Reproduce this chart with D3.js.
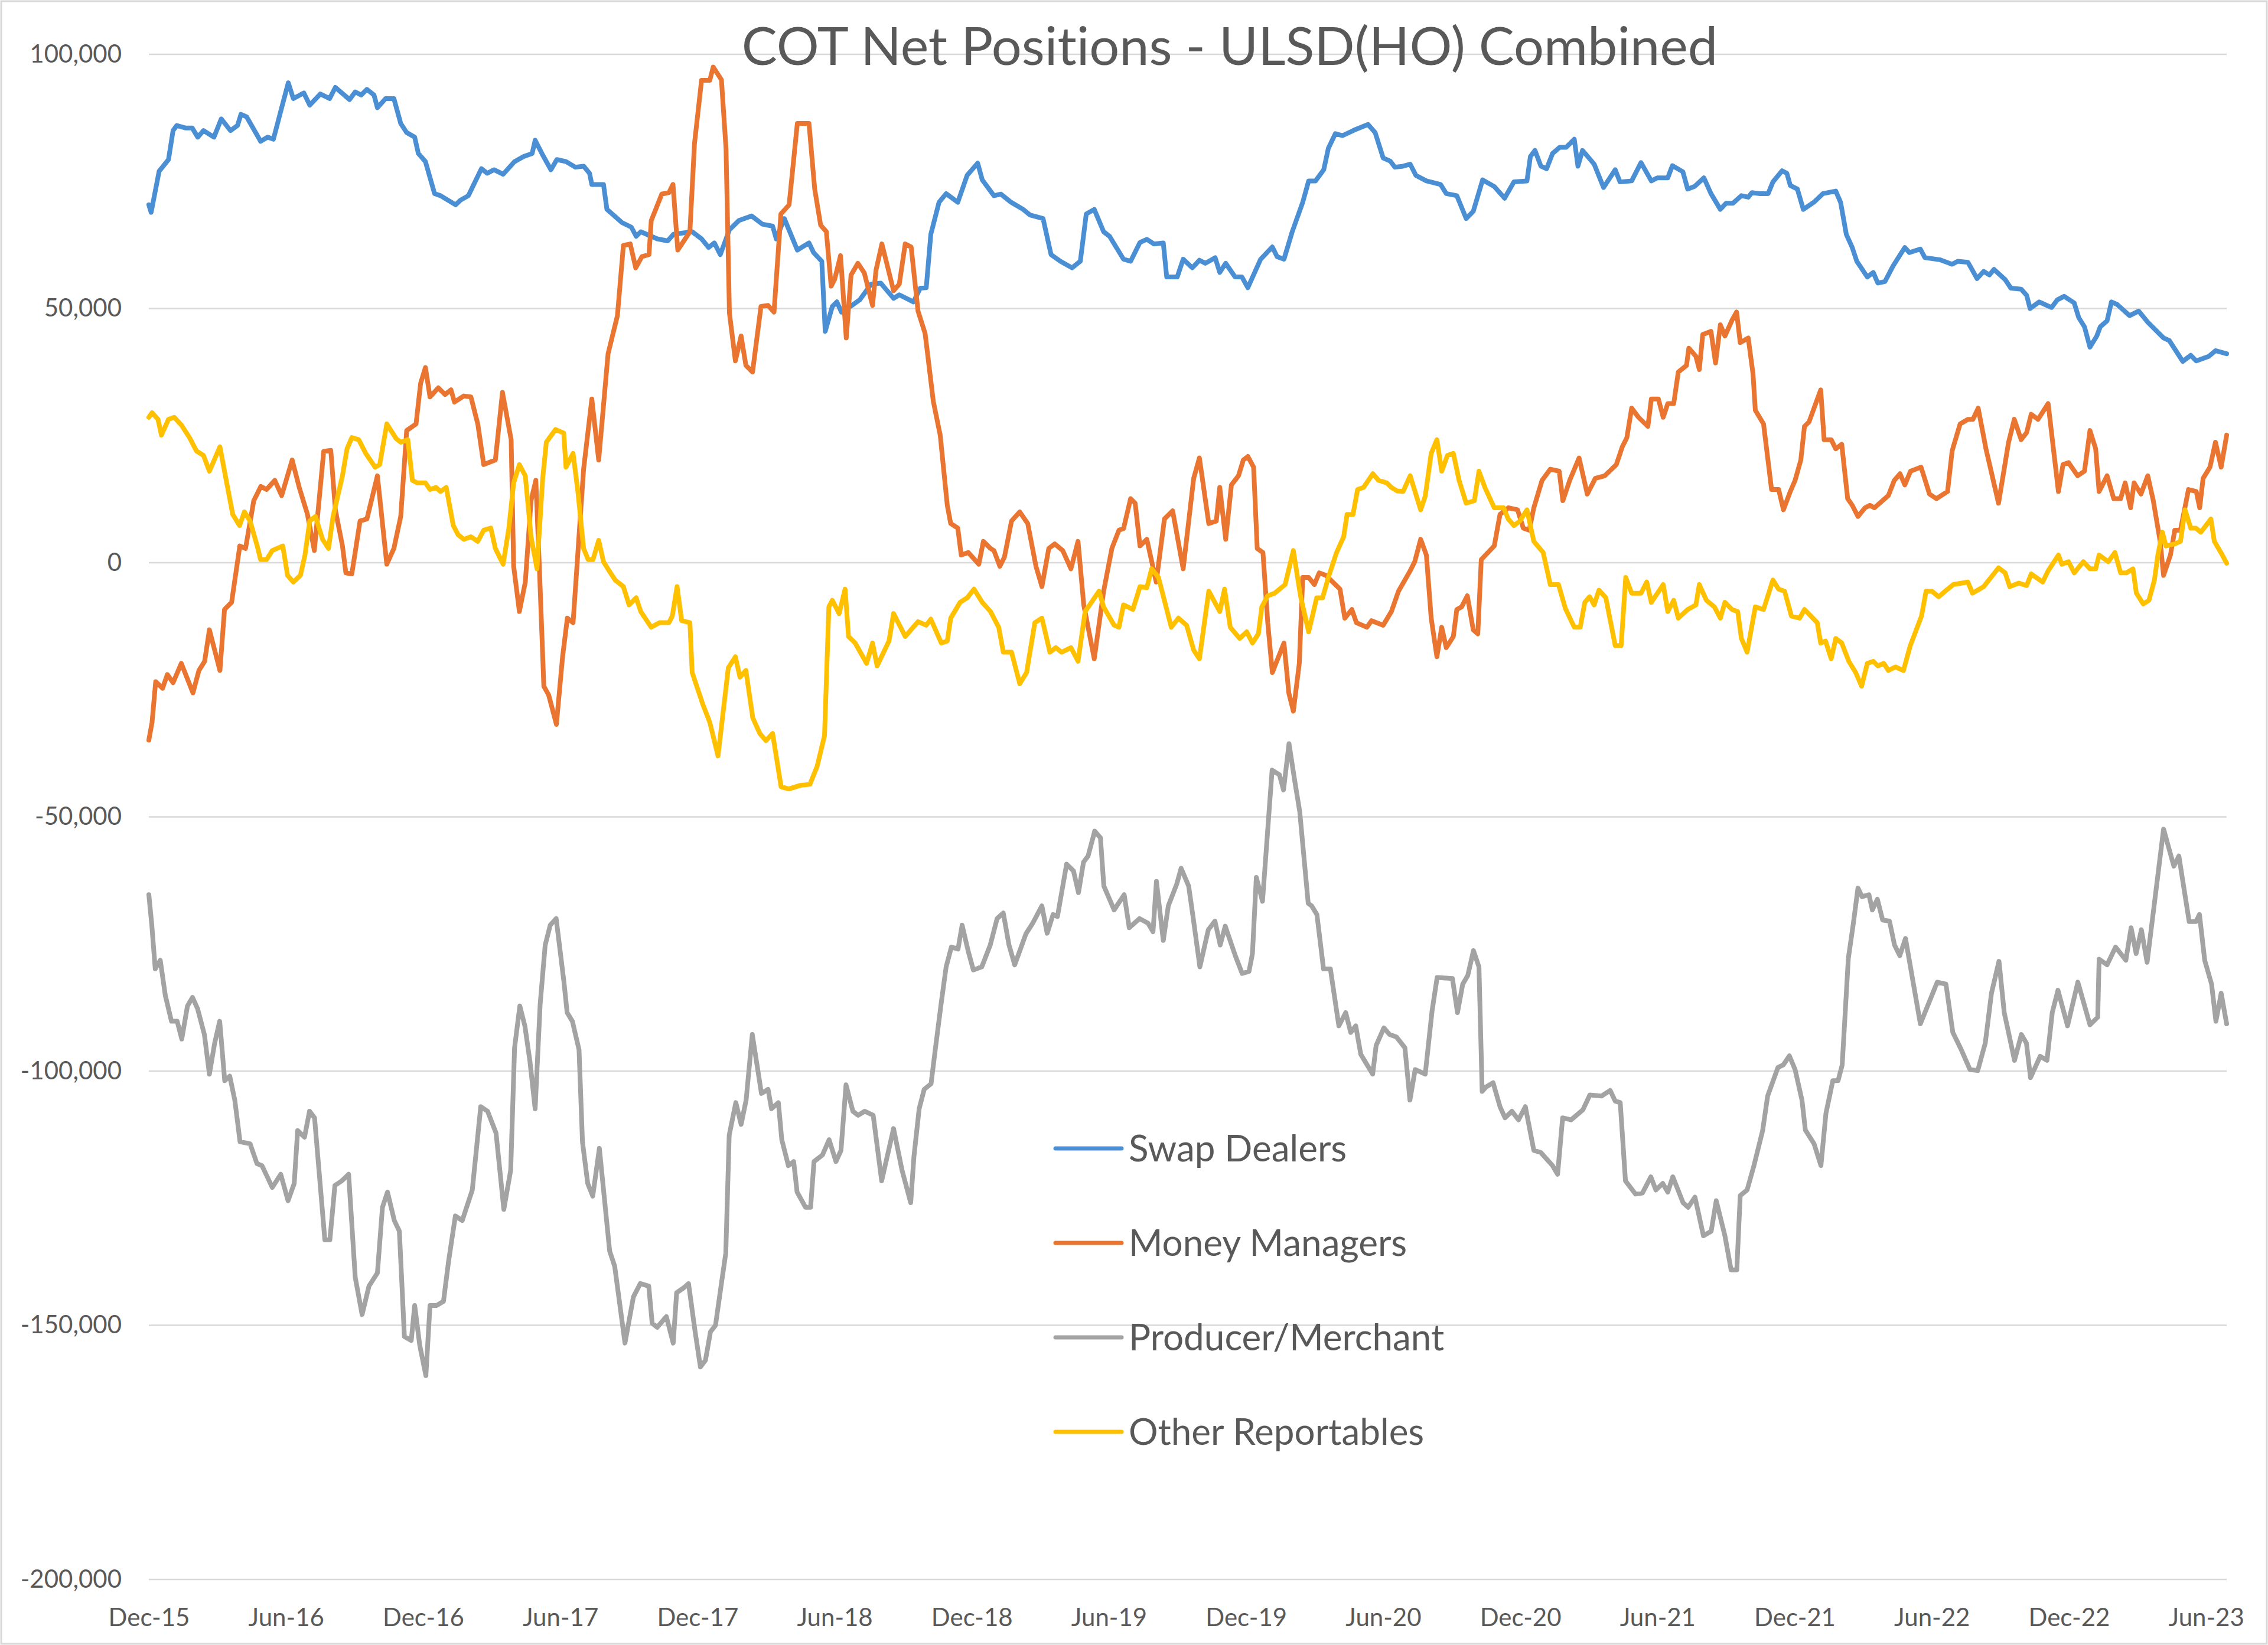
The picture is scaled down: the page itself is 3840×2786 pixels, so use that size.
<!DOCTYPE html>
<html><head><meta charset="utf-8">
<script src="https://cdn.jsdelivr.net/npm/d3@7"></script>
<style>body{margin:0;background:#fff}svg{display:block}text{font-variant-ligatures:none;font-feature-settings:"liga" 0}</style>
</head><body>
<svg id="chart" width="3840" height="2786"></svg>
<script>
// ---------- data ----------
const chartTitle = "COT Net Positions - ULSD(HO) Combined";
const seriesNames = ["Swap Dealers", "Money Managers", "Producer/Merchant", "Other Reportables"];
const seriesColors = ["#4a8fd4", "#ea7530", "#a3a3a3", "#ffc000"];
// x positions are months since Dec 2015
const xTickMonths = [0, 6, 12, 18, 24, 30, 36, 42, 48, 54, 60, 66, 72, 78, 84, 90];
const xTickLabels = ["Dec-15","Jun-16","Dec-16","Jun-17","Dec-17","Jun-18","Dec-18","Jun-19","Dec-19","Jun-20","Dec-20","Jun-21","Dec-21","Jun-22","Dec-22","Jun-23"];
const yTickValues = [-200000, -150000, -100000, -50000, 0, 50000, 100000];

const swapDealers = [[0,70400],[0.1,68900],[0.45,77000],[0.86,79300],[1.06,85000],[1.22,86000],[1.62,85500],[1.9,85500],[2.14,83700],[2.39,85000],[2.85,83700],[3.17,87300],[3.57,85000],[3.88,86000],[4.03,88200],[4.28,87700],[4.89,82900],[5.2,83700],[5.45,83300],[5.81,89500],[6.1,94400],[6.32,91300],[6.78,92400],[7.04,90000],[7.5,92200],[7.91,91300],[8.16,93500],[8.78,91100],[9.03,92600],[9.29,92000],[9.54,93100],[9.85,92000],[10.0,89500],[10.36,91300],[10.72,91300],[11.02,86400],[11.28,84600],[11.63,83700],[11.79,80500],[12.1,78900],[12.5,72600],[12.76,72200],[13.42,70400],[13.63,71300],[13.98,72200],[14.55,77500],[14.8,76600],[15.1,77300],[15.5,76400],[16.0,78900],[16.4,79900],[16.77,80500],[16.9,83100],[17.23,80200],[17.59,77300],[17.85,79300],[18.25,78900],[18.66,77800],[19.02,78000],[19.28,76600],[19.38,74400],[19.89,74400],[20.04,69500],[20.7,66900],[21.11,66000],[21.32,64200],[21.52,65100],[22.24,63700],[22.7,63300],[22.95,64600],[23.77,65100],[24.18,63700],[24.49,62000],[24.74,62900],[25.0,60600],[25.4,65500],[25.81,67300],[26.37,68200],[26.84,66600],[27.29,66200],[27.45,63700],[27.8,67700],[28.37,61500],[28.88,62900],[29.08,61000],[29.44,59300],[29.59,45500],[29.9,50400],[30.1,51300],[30.3,49300],[30.82,50800],[31.1,51700],[31.6,54800],[32.02,55000],[32.58,52000],[32.83,52700],[33.45,51300],[33.75,54000],[34.01,54100],[34.21,64600],[34.57,70900],[34.88,72600],[35.39,70900],[35.8,76200],[36.26,78600],[36.46,75300],[36.97,72200],[37.28,72500],[37.69,71000],[38.25,69500],[38.55,68400],[39.12,67700],[39.47,60600],[39.88,59300],[40.39,58000],[40.75,59300],[41.01,68600],[41.36,69500],[41.77,65100],[42.03,64200],[42.64,59700],[42.95,59300],[43.36,63000],[43.66,63600],[43.97,62700],[44.38,62900],[44.53,56200],[44.99,56200],[45.25,59700],[45.65,58000],[45.96,59500],[46.22,58900],[46.65,60000],[46.85,57100],[47.11,58900],[47.52,56200],[47.82,56200],[48.08,54100],[48.64,59700],[49.15,62100],[49.36,60200],[49.66,59700],[50.02,65100],[50.48,70900],[50.74,75100],[51.04,75100],[51.4,77300],[51.6,81500],[51.91,84400],[52.22,84000],[52.73,85100],[53.34,86200],[53.65,84600],[54.0,79600],[54.31,79000],[54.51,77800],[54.87,78000],[55.18,78400],[55.43,76200],[55.89,75100],[56.51,74400],[56.76,72600],[57.22,72200],[57.63,67700],[57.94,69100],[58.35,75300],[58.86,74000],[59.31,71700],[59.72,74900],[60.29,75100],[60.44,79900],[60.64,81100],[60.9,78000],[61.15,77500],[61.41,80500],[61.72,81700],[62.0,81700],[62.36,83300],[62.52,78000],[62.72,81100],[63.23,78400],[63.64,73800],[64.15,77300],[64.36,74900],[64.87,75100],[65.28,78700],[65.73,75100],[65.99,75700],[66.45,75700],[66.65,78100],[67.11,76900],[67.32,73500],[67.62,74000],[68.03,75700],[68.34,72600],[68.75,69500],[69.0,70700],[69.3,70700],[69.67,72200],[69.97,71900],[70.13,72800],[70.48,72600],[70.84,72600],[71.05,74900],[71.45,77100],[71.66,76600],[71.81,74200],[72.12,73500],[72.38,69500],[72.84,70900],[73.24,72600],[73.8,73100],[74.01,70900],[74.26,64600],[74.52,62000],[74.72,59300],[75.18,56200],[75.44,57100],[75.64,55000],[75.95,55300],[76.31,58400],[76.82,62000],[77.02,61000],[77.5,61700],[77.7,60000],[78.35,59600],[78.89,58700],[79.14,59300],[79.58,59100],[79.98,55900],[80.27,57300],[80.52,56600],[80.72,57700],[81.21,55700],[81.46,54000],[81.91,53800],[82.15,52600],[82.3,50000],[82.7,51300],[83.24,50200],[83.49,51700],[83.79,52400],[84.23,51100],[84.43,48200],[84.68,46400],[84.92,42400],[85.22,44600],[85.37,46400],[85.67,47600],[85.86,51300],[86.11,50800],[86.65,48600],[87.05,49500],[87.45,47300],[88.14,44200],[88.39,43700],[88.98,39600],[89.33,40800],[89.57,39700],[90.12,40600],[90.41,41700],[90.9,41100]];

const moneyManagers = [[0,-34900],[0.14,-31400],[0.3,-23400],[0.6,-24700],[0.81,-22000],[1.06,-23600],[1.42,-19800],[1.93,-25600],[2.19,-21200],[2.44,-19400],[2.65,-13200],[3.11,-21200],[3.31,-9200],[3.62,-7800],[3.98,3300],[4.23,2800],[4.59,12200],[4.9,15000],[5.15,14400],[5.51,16200],[5.81,13200],[6.27,20200],[6.58,14800],[6.94,9500],[7.24,2400],[7.65,21900],[7.96,22100],[8.16,10400],[8.47,3300],[8.62,-2000],[8.88,-2200],[9.24,8200],[9.54,8600],[10.0,17100],[10.41,-300],[10.72,2800],[11.02,9100],[11.28,26000],[11.69,27300],[11.89,35300],[12.1,38400],[12.3,32600],[12.66,34400],[12.96,33100],[13.22,34000],[13.37,31600],[13.78,32800],[14.09,32600],[14.39,27300],[14.65,19300],[15.16,20200],[15.47,33500],[15.85,24200],[15.96,-700],[16.21,-9600],[16.47,-3800],[16.72,12200],[16.93,16200],[17.08,-300],[17.28,-24300],[17.49,-26000],[17.83,-31800],[18.1,-18500],[18.31,-10900],[18.56,-11800],[19.02,18400],[19.38,32200],[19.68,20200],[20.09,41100],[20.5,48600],[20.76,62400],[21.06,62700],[21.3,58000],[21.57,60200],[21.88,60600],[21.98,67300],[22.44,72500],[22.75,72800],[22.93,74400],[23.14,61500],[23.67,65100],[23.87,82400],[24.18,94900],[24.54,94900],[24.69,97500],[25.05,95000],[25.25,81500],[25.4,49100],[25.66,39700],[25.91,44600],[26.12,38800],[26.41,37500],[26.78,50400],[27.09,50600],[27.35,49300],[27.65,68600],[28.01,70400],[28.37,86400],[28.88,86400],[29.13,73500],[29.39,66400],[29.64,65100],[29.85,54400],[30.0,55700],[30.26,60400],[30.51,44200],[30.72,56600],[31.02,58900],[31.3,57000],[31.66,50600],[31.81,57500],[32.07,62700],[32.58,53500],[32.83,54800],[33.09,62700],[33.35,62100],[33.65,49500],[33.96,45100],[34.32,31700],[34.62,25100],[34.93,11300],[35.08,7700],[35.39,6800],[35.54,1500],[35.85,2000],[36.31,-300],[36.51,4200],[36.82,2800],[36.97,2400],[37.23,-700],[37.43,1100],[37.74,8200],[38.1,10000],[38.45,7700],[38.81,-700],[39.07,-4700],[39.37,2800],[39.63,3700],[39.98,2400],[40.34,-1200],[40.65,4200],[40.9,-8300],[41.36,-18900],[41.77,-5600],[42.13,2800],[42.44,6400],[42.64,6700],[42.95,12600],[43.15,11700],[43.36,3300],[43.66,4600],[44.07,-3800],[44.43,8600],[44.79,10200],[45.25,-1200],[45.71,16600],[45.96,20600],[46.37,7700],[46.7,8200],[46.85,14800],[47.11,4600],[47.36,15300],[47.67,17100],[47.88,20200],[48.08,20900],[48.33,18800],[48.49,2800],[48.74,2000],[48.95,-11800],[49.15,-21600],[49.66,-15800],[49.87,-25600],[50.07,-29200],[50.33,-19800],[50.48,-2900],[50.74,-2900],[50.99,-4300],[51.2,-2000],[51.5,-2500],[51.91,-4300],[52.11,-5200],[52.32,-10900],[52.63,-9200],[52.83,-11800],[53.29,-12700],[53.49,-11400],[54.0,-12300],[54.36,-9600],[54.67,-5600],[55.18,-1600],[55.38,200],[55.64,4600],[55.89,1500],[56.1,-10900],[56.35,-18500],[56.56,-12700],[56.76,-16700],[57.07,-14500],[57.22,-9200],[57.43,-8700],[57.68,-6500],[57.94,-13200],[58.14,-14000],[58.29,600],[58.86,3300],[59.11,9500],[59.47,10800],[59.88,10400],[60.13,6800],[60.39,6400],[60.59,10800],[60.95,16200],[61.31,18400],[61.7,18000],[61.86,12200],[62.16,16200],[62.57,20600],[62.93,13500],[63.28,16600],[63.69,17100],[64.2,19300],[64.46,22800],[64.66,24600],[64.87,30400],[65.17,28600],[65.58,26800],[65.73,32200],[66.04,32200],[66.25,28600],[66.45,31300],[66.71,31300],[66.91,37500],[67.27,38800],[67.37,42200],[67.68,40600],[67.83,38000],[67.98,44900],[68.34,45500],[68.54,39300],[68.75,46800],[68.95,44600],[69.26,47700],[69.46,49300],[69.62,43300],[69.97,44200],[70.18,37100],[70.28,30000],[70.64,27300],[70.99,14400],[71.3,14400],[71.51,10400],[71.81,14000],[72.02,16200],[72.27,20200],[72.43,26800],[72.63,27700],[73.14,34000],[73.29,24200],[73.6,24200],[73.8,22400],[74.06,23300],[74.32,12600],[74.52,11300],[74.77,9100],[75.08,10800],[75.29,11300],[75.49,10800],[76.1,13200],[76.36,16200],[76.61,17500],[76.82,15300],[77.07,18000],[77.53,18800],[77.9,13500],[78.2,12600],[78.69,14000],[78.89,22000],[79.24,27300],[79.58,28200],[79.8,28200],[80.03,30400],[80.37,22400],[80.92,11700],[81.36,23700],[81.61,28200],[81.91,24200],[82.15,25600],[82.35,29200],[82.65,28200],[83.09,31300],[83.54,14000],[83.74,19300],[83.98,19700],[84.38,17100],[84.68,18000],[84.92,26000],[85.17,22400],[85.32,14000],[85.67,17100],[85.96,12600],[86.26,12600],[86.46,15700],[86.7,10800],[86.85,15700],[87.15,13500],[87.45,17100],[87.69,12200],[87.99,4200],[88.14,-2500],[88.44,1500],[88.63,6400],[88.88,6400],[89.23,14400],[89.57,14000],[89.72,10800],[89.87,16600],[90.17,18800],[90.41,23700],[90.66,18800],[90.9,25100]];

const producerMerchant = [[0,-65300],[0.13,-71300],[0.28,-79900],[0.5,-78200],[0.72,-85100],[0.99,-90200],[1.24,-90200],[1.44,-93700],[1.69,-87200],[1.91,-85500],[2.13,-87700],[2.43,-92800],[2.65,-100600],[2.88,-94500],[3.1,-90200],[3.32,-101900],[3.54,-101000],[3.76,-105700],[3.99,-113900],[4.43,-114300],[4.73,-118200],[4.95,-118600],[5.4,-122900],[5.77,-120300],[6.09,-125500],[6.36,-122100],[6.51,-111700],[6.81,-113000],[7.03,-107900],[7.25,-109200],[7.7,-133200],[7.92,-133200],[8.14,-122500],[8.44,-121600],[8.74,-120300],[9.03,-140600],[9.33,-147900],[9.63,-142300],[10.0,-139700],[10.22,-126800],[10.44,-123800],[10.74,-129400],[10.96,-131500],[11.18,-152200],[11.48,-153000],[11.63,-146100],[11.85,-153900],[12.12,-159900],[12.3,-146100],[12.59,-146100],[12.89,-145300],[13.11,-137500],[13.41,-128500],[13.71,-129400],[14.15,-123400],[14.52,-107000],[14.82,-107900],[15.19,-112200],[15.53,-127200],[15.83,-119500],[16.0,-95400],[16.23,-87200],[16.45,-91100],[16.67,-98000],[16.9,-107400],[17.12,-86800],[17.34,-75200],[17.56,-71300],[17.82,-70000],[18.16,-82500],[18.3,-88500],[18.53,-90200],[18.82,-95800],[18.97,-113900],[19.2,-122100],[19.42,-124600],[19.71,-115200],[20.16,-135400],[20.38,-138400],[20.83,-153500],[21.2,-144400],[21.5,-141800],[21.87,-142300],[22.02,-149600],[22.24,-150400],[22.64,-148300],[22.94,-153500],[23.09,-143600],[23.38,-142700],[23.61,-141800],[23.9,-151300],[24.13,-158200],[24.35,-156900],[24.57,-151300],[24.79,-150000],[25.02,-142700],[25.24,-135800],[25.39,-112600],[25.68,-106200],[25.91,-110500],[26.13,-105700],[26.4,-92800],[26.8,-104400],[27.09,-103600],[27.24,-107400],[27.54,-106200],[27.69,-113500],[27.98,-118600],[28.21,-117800],[28.36,-123800],[28.73,-126800],[28.95,-126800],[29.1,-117800],[29.47,-116500],[29.76,-113500],[30.06,-117800],[30.28,-115600],[30.5,-102700],[30.8,-107900],[31.03,-108700],[31.32,-107900],[31.69,-108700],[32.06,-121600],[32.58,-111300],[32.95,-119500],[33.33,-125900],[33.47,-116900],[33.7,-107400],[33.92,-103600],[34.22,-102500],[34.44,-94500],[34.66,-86800],[34.88,-79500],[35.11,-75600],[35.4,-76000],[35.58,-71300],[35.85,-76500],[36.07,-80100],[36.44,-79500],[36.81,-75200],[37.11,-70000],[37.38,-68900],[37.63,-75200],[37.88,-79100],[38.37,-73000],[38.67,-70900],[39.07,-67500],[39.3,-72900],[39.56,-69200],[39.75,-69600],[40.15,-59300],[40.45,-60600],[40.67,-64900],[40.89,-58900],[41.09,-57700],[41.38,-52800],[41.63,-54100],[41.78,-63600],[42.23,-68300],[42.67,-65300],[42.89,-71800],[43.34,-70000],[43.71,-70900],[43.93,-72600],[44.08,-62700],[44.38,-74300],[44.6,-67500],[44.97,-63200],[45.16,-60100],[45.49,-63600],[45.68,-69600],[45.98,-79500],[46.35,-72200],[46.64,-70500],[46.87,-75200],[47.09,-71500],[47.53,-77300],[47.83,-80800],[48.13,-80400],[48.28,-76900],[48.45,-61900],[48.72,-66600],[49.14,-40800],[49.46,-41700],[49.64,-44700],[49.88,-35600],[50.13,-42900],[50.35,-49000],[50.72,-67000],[50.87,-67500],[51.1,-69200],[51.39,-79900],[51.69,-79900],[52.06,-91100],[52.36,-88500],[52.58,-92400],[52.8,-91100],[53.02,-96700],[53.54,-100600],[53.69,-95000],[54.03,-91500],[54.28,-92800],[54.58,-93300],[54.95,-95400],[55.17,-105700],[55.4,-99700],[55.84,-100600],[56.14,-88100],[56.36,-81600],[57.03,-81800],[57.25,-88500],[57.48,-82900],[57.7,-81200],[57.95,-76300],[58.19,-79500],[58.33,-104000],[58.51,-103100],[58.81,-102300],[59.11,-107000],[59.33,-109200],[59.63,-107900],[59.92,-109600],[60.22,-107000],[60.59,-115600],[60.89,-116000],[61.41,-118600],[61.63,-120300],[61.85,-109200],[62.22,-109600],[62.74,-107600],[63.04,-104700],[63.56,-104900],[63.93,-103800],[64.15,-105900],[64.37,-106200],[64.6,-121600],[65.04,-124200],[65.34,-124000],[65.71,-120800],[65.93,-123400],[66.23,-122100],[66.45,-123800],[66.67,-120800],[67.12,-125900],[67.34,-126800],[67.64,-124800],[68.01,-132400],[68.35,-131500],[68.57,-125500],[68.95,-132400],[69.22,-139100],[69.47,-139100],[69.62,-124500],[69.92,-123400],[70.22,-118600],[70.6,-111700],[70.82,-104900],[71.27,-99300],[71.5,-98800],[71.77,-97000],[72.02,-99700],[72.32,-105700],[72.47,-111600],[72.85,-114300],[73.15,-118600],[73.37,-108300],[73.67,-101900],[73.9,-101900],[74.08,-98800],[74.35,-77800],[74.57,-70900],[74.77,-64000],[74.95,-65700],[75.25,-65300],[75.4,-68300],[75.62,-66200],[75.85,-70300],[76.15,-70500],[76.37,-75200],[76.6,-77300],[76.85,-73900],[77.5,-90700],[78.24,-82500],[78.62,-82900],[78.92,-92400],[79.29,-95800],[79.67,-99700],[80.01,-99900],[80.34,-94500],[80.61,-84700],[80.94,-78400],[81.17,-88500],[81.62,-97900],[81.92,-92800],[82.14,-94500],[82.32,-101300],[82.74,-97100],[83.04,-97900],[83.27,-88500],[83.52,-84100],[83.94,-91100],[84.39,-82500],[84.92,-90900],[85.26,-89400],[85.32,-78000],[85.67,-79100],[86.04,-75600],[86.49,-78200],[86.72,-71800],[86.94,-76900],[87.17,-72200],[87.42,-78600],[88.14,-52400],[88.59,-59700],[88.81,-57700],[89.26,-70600],[89.56,-70600],[89.71,-69200],[89.94,-78200],[90.24,-82900],[90.43,-90200],[90.66,-84700],[90.9,-90700]];

const otherReportables = [[0,28600],[0.14,29500],[0.4,28200],[0.55,25100],[0.86,28200],[1.11,28600],[1.42,27100],[1.78,24600],[2.08,22000],[2.39,21100],[2.65,18000],[3.11,22800],[3.31,18000],[3.67,9500],[3.97,7300],[4.18,10000],[4.43,8200],[4.74,3300],[4.89,600],[5.15,600],[5.4,2400],[5.86,3300],[6.07,-2500],[6.32,-3800],[6.63,-2500],[6.83,1500],[7.04,8200],[7.29,9100],[7.6,4600],[7.86,2800],[8.06,9100],[8.47,17100],[8.67,22400],[8.88,24600],[9.18,24200],[9.49,21500],[9.9,18800],[10.1,19300],[10.41,27300],[10.82,24400],[11.02,23700],[11.33,24200],[11.53,16200],[11.74,15700],[12.1,15700],[12.3,14400],[12.56,14800],[12.76,14000],[13.01,14800],[13.32,7300],[13.53,5500],[13.78,4600],[14.09,5100],[14.39,4200],[14.65,6400],[14.96,6800],[15.16,2800],[15.5,-300],[15.75,6800],[15.96,15700],[16.21,19300],[16.47,17100],[16.72,5100],[16.98,-1200],[17.23,16600],[17.39,23700],[17.79,26200],[18.15,25500],[18.25,18800],[18.56,21500],[18.77,14000],[19.02,2800],[19.22,600],[19.43,600],[19.68,4400],[19.89,200],[20.14,-1600],[20.4,-3400],[20.76,-4700],[21.01,-8300],[21.32,-6900],[21.52,-9600],[21.98,-12700],[22.34,-11800],[22.75,-11800],[22.9,-10500],[23.11,-4700],[23.31,-11400],[23.67,-11800],[23.77,-21600],[24.23,-27800],[24.54,-31400],[24.9,-38000],[25.35,-20700],[25.66,-18500],[25.86,-22500],[26.12,-21200],[26.42,-30500],[26.73,-33600],[27.0,-35000],[27.29,-33600],[27.66,-44100],[28.0,-44500],[28.5,-43800],[28.92,-43600],[29.24,-40000],[29.56,-34000],[29.75,-8700],[29.9,-7400],[30.2,-10000],[30.46,-5200],[30.61,-14500],[30.9,-15800],[31.4,-19800],[31.66,-15800],[31.86,-20300],[32.38,-15400],[32.58,-10000],[33.09,-14500],[33.65,-11600],[34.01,-12300],[34.21,-11100],[34.67,-15800],[34.93,-15400],[35.08,-10900],[35.49,-7800],[35.8,-6900],[36.1,-5200],[36.46,-7800],[36.82,-9600],[37.18,-12700],[37.38,-17600],[37.74,-17600],[38.1,-23800],[38.4,-21600],[38.76,-11800],[39.07,-10900],[39.42,-17600],[39.68,-16700],[39.93,-17600],[40.34,-16700],[40.65,-19400],[40.96,-9600],[41.57,-5600],[41.77,-8700],[42.23,-12300],[42.44,-12700],[42.64,-8300],[43.05,-9200],[43.36,-4700],[43.66,-4900],[43.87,-1200],[44.17,-2900],[44.73,-12700],[45.04,-10900],[45.4,-12300],[45.71,-17200],[45.96,-18900],[46.37,-5600],[46.85,-9600],[47.06,-5200],[47.31,-12700],[47.72,-14900],[48.03,-13600],[48.28,-15800],[48.54,-14000],[48.69,-8700],[48.95,-6500],[49.25,-6000],[49.71,-4300],[50.07,2400],[50.38,-6500],[50.74,-13600],[51.09,-6900],[51.35,-6900],[51.6,-2900],[51.96,2000],[52.27,5100],[52.42,9500],[52.68,9500],[52.88,14400],[53.14,14800],[53.55,17500],[53.8,16200],[54.16,15700],[54.36,14800],[54.62,14100],[54.87,14000],[55.18,17100],[55.64,10400],[55.84,13100],[56.1,21500],[56.35,24200],[56.56,18000],[56.81,21100],[57.07,21500],[57.32,16200],[57.63,11700],[57.99,12200],[58.19,18000],[58.45,14800],[58.86,10800],[59.27,10800],[59.47,8600],[59.72,7300],[59.98,8200],[60.29,10400],[60.59,4200],[61.0,2000],[61.31,-4300],[61.67,-4300],[61.97,-9000],[62.36,-12700],[62.62,-12700],[62.82,-7800],[63.03,-6700],[63.23,-8300],[63.44,-5400],[63.74,-6900],[64.15,-16300],[64.41,-16300],[64.61,-2900],[64.87,-6000],[65.28,-6000],[65.53,-3800],[65.73,-7800],[66.25,-4300],[66.45,-9600],[66.71,-7400],[66.91,-10900],[67.32,-9200],[67.68,-8300],[67.83,-4300],[68.14,-7400],[68.49,-8700],[68.75,-10900],[68.95,-7800],[69.26,-9200],[69.51,-9600],[69.67,-14900],[69.92,-17600],[70.28,-8700],[70.64,-9200],[71.05,-3400],[71.3,-5200],[71.56,-5600],[71.86,-10500],[72.22,-10900],[72.43,-9200],[72.99,-11800],[73.14,-15800],[73.35,-15400],[73.6,-18900],[73.8,-14900],[74.06,-15800],[74.37,-19400],[74.67,-21600],[74.93,-24300],[75.18,-19800],[75.44,-19400],[75.64,-20300],[75.9,-19800],[76.1,-21200],[76.41,-20500],[76.76,-21200],[77.06,-16300],[77.55,-10500],[77.75,-5600],[78.0,-5600],[78.3,-6700],[78.69,-5200],[78.94,-4300],[79.58,-3800],[79.78,-6000],[80.27,-4700],[80.92,-1000],[81.21,-2000],[81.41,-4700],[81.81,-4000],[82.15,-4500],[82.35,-2200],[82.85,-3800],[83.09,-1600],[83.54,1500],[83.69,-300],[83.98,200],[84.23,-2000],[84.63,200],[84.92,-1200],[85.17,-1200],[85.32,1500],[85.72,200],[86.01,2000],[86.26,-2000],[86.51,-2000],[86.8,-1200],[86.95,-6000],[87.25,-8100],[87.5,-7400],[87.74,-3400],[87.89,1500],[88.09,6000],[88.24,3300],[88.63,3700],[88.88,4200],[89.08,10400],[89.33,6800],[89.55,6800],[89.77,6000],[90.21,8600],[90.36,4200],[90.71,1500],[90.9,-100]];

const seriesData = [swapDealers, moneyManagers, producerMerchant, otherReportables];

// ---------- drawing ----------
const W = 3840, H = 2786;
const FONT = "Lato, 'Open Sans', sans-serif";
const TEXT = "#595959";
const svg = d3.select("#chart");

svg.append("rect").attr("x", 0).attr("y", 0).attr("width", W).attr("height", H).attr("fill", "#fff");
svg.append("rect").attr("x", 2).attr("y", 2).attr("width", W - 4).attr("height", H - 4)
  .attr("fill", "none").attr("stroke", "#d9d9d9").attr("stroke-width", 3);

const x = d3.scaleLinear().domain([0, 90.9]).range([252, 3770]);
const y = d3.scaleLinear().domain([-200000, 100000]).range([2675, 92]);

const loc = d3.formatLocale({decimal: ".", thousands: ",", grouping: [3], currency: ["$", ""], minus: "-"});
const fmt = loc.format(",");

// gridlines
svg.append("g").selectAll("line").data(yTickValues).join("line")
  .attr("x1", x(0)).attr("x2", x.range()[1])
  .attr("y1", d => y(d)).attr("y2", d => y(d))
  .attr("stroke", "#d9d9d9").attr("stroke-width", 2.5);

// y axis
const yAxis = svg.append("g").attr("transform", `translate(${x(0)},0)`)
  .call(d3.axisLeft(y).tickValues(yTickValues).tickSize(0).tickPadding(46).tickFormat(fmt));
yAxis.select(".domain").remove();
yAxis.selectAll("text").attr("font-family", FONT).attr("font-size", 42).attr("fill", TEXT);

// x axis
const xAxis = svg.append("g").attr("transform", `translate(0,${y(-200000)})`)
  .call(d3.axisBottom(x).tickValues(xTickMonths).tickSize(0).tickPadding(49)
    .tickFormat((d, i) => xTickLabels[i]));
xAxis.select(".domain").remove();
xAxis.selectAll("text").attr("font-family", FONT).attr("font-size", 42).attr("fill", TEXT);

// lines
const line = d3.line().x(d => x(d[0])).y(d => y(d[1]));
svg.append("g").selectAll("path").data(seriesData).join("path")
  .attr("d", line)
  .attr("fill", "none")
  .attr("stroke", (d, i) => seriesColors[i])
  .attr("stroke-width", 8)
  .attr("stroke-linejoin", "round")
  .attr("stroke-linecap", "round");

// title
svg.append("text").attr("x", 2082).attr("y", 110).attr("text-anchor", "middle")
  .attr("font-family", FONT).attr("font-size", 90).attr("fill", TEXT).text(chartTitle);

// legend
const legendY = [1945, 2105, 2265, 2425];
const lg = svg.append("g").selectAll("g").data(seriesNames).join("g")
  .attr("transform", (d, i) => `translate(1787,${legendY[i]})`);
lg.append("line").attr("x1", 0).attr("x2", 112).attr("y1", 0).attr("y2", 0)
  .attr("stroke", (d, i) => seriesColors[i]).attr("stroke-width", 7).attr("stroke-linecap", "round");
lg.append("text").attr("x", 124).attr("y", 0).attr("dy", "0.36em")
  .attr("font-family", FONT).attr("font-size", 62).attr("fill", TEXT).text(d => d);
</script>
</body></html>
